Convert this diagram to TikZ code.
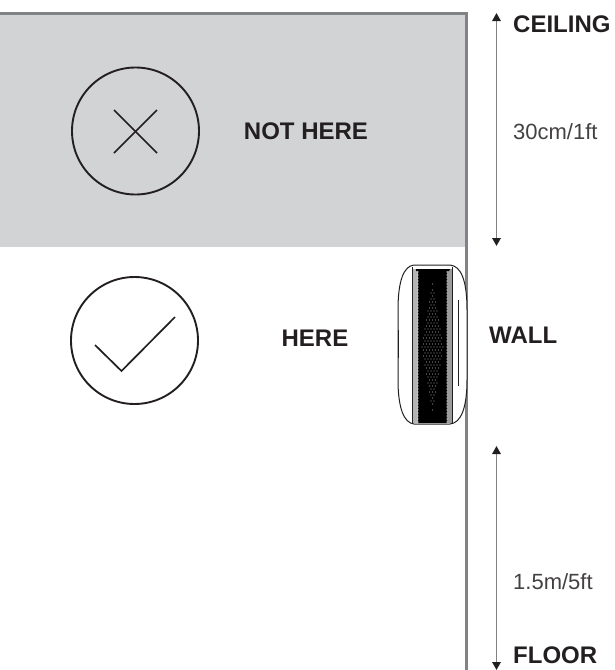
\documentclass[tikz,border=0pt]{standalone}
\usepackage{fontspec}
\setmainfont{Liberation Sans}
\usepackage{xcolor}
\usetikzlibrary{arrows.meta,positioning,calc}
\definecolor{ZoneGray}{RGB}{209,211,212}
\definecolor{WallGray}{RGB}{128,130,133}
\definecolor{InkBlack}{RGB}{35,31,32}
\tikzset{
  boldlabel/.style={font=\fontsize{24}{28}\selectfont\bfseries,text=InkBlack,inner sep=0pt},
  sizelabel/.style={font=\fontsize{22}{26}\selectfont,text=InkBlack!85,inner sep=0pt,anchor=west},
  sign/.style={circle,draw=InkBlack,line width=1.9pt,minimum size=127pt,inner sep=0pt},
  markline/.style={draw=InkBlack,line width=1.7pt},
  wall/.style={WallGray,line width=3pt},
  span/.style={{Triangle[length=8pt,width=8.5pt,color=InkBlack]}-{Triangle[length=8pt,width=8.5pt,color=InkBlack]},WallGray,line width=1.5pt},
  shell/.style={draw=InkBlack,line width=1pt,fill=white},
}
\begin{document}
\begin{tikzpicture}[x=1pt,y=-1pt]
  \useasboundingbox (0,0) rectangle (614,670);
  \fill[ZoneGray] (0,13) rectangle (466,247);
  \coordinate (ceilcorner) at (0,13);
  \coordinate (walltop) at (466,13);
  \coordinate (wallend) at (466,670);
  \draw[wall] (ceilcorner)--(walltop)--(wallend);

  \node[sign] (notsign) at (135.5,131) {};
  \node[sign] (oksign) at (134.5,340.5) {};
  \coordinate (crossa) at (114,110);
  \coordinate (crossb) at (157,153);
  \coordinate (crossc) at (157,110);
  \coordinate (crossd) at (114,153);
  \draw[markline] (crossa)--(crossb);
  \draw[markline] (crossc)--(crossd);
  \coordinate (ticka) at (95,345);
  \coordinate (tickb) at (121.5,371);
  \coordinate (tickc) at (175,317);
  \draw[markline] (ticka)--(tickb)--(tickc);

  \node[boldlabel] (nothere) at (306,131) {NOT HERE};
  \node[boldlabel] (here) at (315,338) {HERE};
  \node[boldlabel,anchor=west] (wallname) at (489,335) {WALL};
  \node[boldlabel,anchor=west] (ceiling) at (513,24) {CEILING};
  \node[boldlabel,anchor=west] (floor) at (513,655) {FLOOR};
  \node[sizelabel] (upper) at (513,132) {30cm/1ft};
  \node[sizelabel] (lower) at (513,582) {1.5m/5ft};

  \coordinate (uppertop) at (496.5,13);
  \coordinate (upperend) at (496.5,246);
  \coordinate (lowertop) at (496.5,446);
  \coordinate (lowerend) at (496.5,670);
  \draw[span] (uppertop)--(upperend);
  \draw[span] (lowertop)--(lowerend);

  \draw[shell] (414,265) .. controls (404,266) and (398,280) .. (398,310)
    -- (398,380) .. controls (398,408) and (404,423) .. (414,424)
    -- (450,424) .. controls (461,423) and (467,408) .. (467,380)
    -- (467,310) .. controls (467,280) and (461,266) .. (450,265) -- cycle;
  \fill[WallGray!60] (413,269) rectangle (418,423);
  \fill[WallGray!80] (447,269) rectangle (452,423);
  \draw[InkBlack,line width=0.8pt] (412.5,267) -- (412.5,423) (452,267) -- (452,423);
  \draw[InkBlack,line width=0.8pt] (458,300) -- (458,386);
  \fill[black] (416,269) -- (450,269) -- (449,271) -- (447,271) -- (447,423) -- (418,423) -- (418,271) -- (416,271) -- cycle;
  \fill[InkBlack] (397.5,330) rectangle (399,358);
  \foreach \row in {0,...,50}{
    \fill[white] (418,{272+\row*3}) circle (0.7pt);
    \fill[white] (447,{272+\row*3}) circle (0.7pt);
  }
  \foreach \row in {0,...,42}{
    \pgfmathsetmacro{\halfw}{max(0,11-abs(\row-21)*0.5)}
    \foreach \col in {-4,...,4}{
      \pgfmathparse{abs(\col*3+mod(\row,2)*1.5)<\halfw ? 1 : 0}
      \ifnum\pgfmathresult=1
        \fill[white!55!black] ({432.5+\col*3+mod(\row,2)*1.5},{284+\row*3}) circle (0.6pt);
      \fi
    }
  }
\end{tikzpicture}
\end{document}
